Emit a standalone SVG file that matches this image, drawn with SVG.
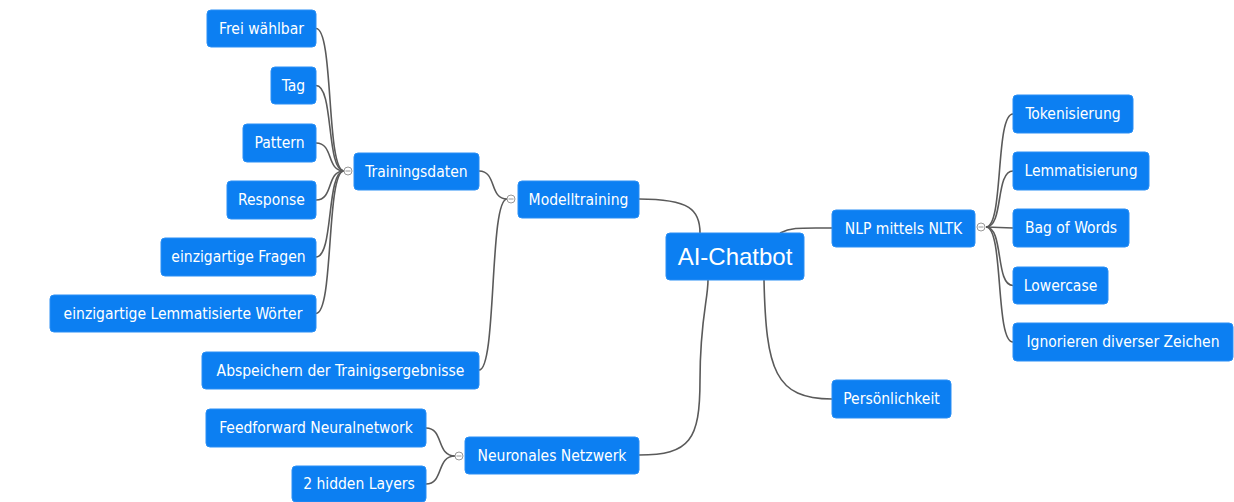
<svg xmlns="http://www.w3.org/2000/svg" width="1234" height="502" viewBox="0 0 1234 502">
<style>
.n rect{fill:#0c7ff2;stroke:#2a8ff5;stroke-width:1}
.n text{fill:#fff;font-family:"DejaVu Sans Condensed","DejaVu Sans","Liberation Sans",sans-serif;font-stretch:condensed;font-size:15.5px;text-anchor:middle;dominant-baseline:central}
.c path{fill:none;stroke:#5a5a5a;stroke-width:1.6}
.k{fill:#fff;stroke:#999;stroke-width:1}
.km{stroke:#999;stroke-width:1}
</style>
<rect width="1234" height="502" fill="#fff"/>
<g id="connectors" class="c">
<path d="M316,28.5 C334,28.5 326,171 344,171"/>
<path d="M316,85.5 C334,85.5 326,171 344,171"/>
<path d="M316,143 C334,143 326,171 344,171"/>
<path d="M316,200 C334,200 326,171 344,171"/>
<path d="M316,257 C334,257 326,171 344,171"/>
<path d="M316,313.5 C334,313.5 326,171 344,171"/>
<path d="M479,171 C497,171 489,199 507,199"/>
<path d="M479,370 C497,370 489,199 507,199"/>
<path d="M426,428 C444,428 436,456 455,456"/>
<path d="M426,484 C444,484 436,456 455,456"/>
<path d="M639,199 C690,199 700,210 700,233"/>
<path d="M639,455 C690,455 700,440 700,380 C700,320 708,300 708,280"/>
<path d="M780,233 C792,227 800,228 832,228"/>
<path d="M764,280 C766,370 775,399 832,399"/>
<path d="M986,227 C1004,227 995,114 1013,114"/>
<path d="M986,227 C1004,227 995,171 1013,171"/>
<path d="M986,227 L1013,228"/>
<path d="M986,227 C1004,227 995,285.5 1013,285.5"/>
<path d="M986,227 C1004,227 995,342 1013,342"/>
</g>
<g id="collapse">
<circle class="k" cx="348" cy="171" r="4"/><line class="km" x1="345.5" y1="171" x2="350.5" y2="171"/>
<circle class="k" cx="511" cy="199" r="4"/><line class="km" x1="508.5" y1="199" x2="513.5" y2="199"/>
<circle class="k" cx="459" cy="456" r="4"/><line class="km" x1="456.5" y1="456" x2="461.5" y2="456"/>
<circle class="k" cx="981" cy="227" r="4"/><line class="km" x1="978.5" y1="227" x2="983.5" y2="227"/>
</g>
<g id="n-frei" class="n"><rect x="207" y="10" width="109" height="37" rx="4"/><text x="261.5" y="28.5">Frei wählbar</text></g>
<g id="n-tag" class="n"><rect x="271" y="67" width="45" height="37" rx="4"/><text x="293.5" y="85.5">Tag</text></g>
<g id="n-pattern" class="n"><rect x="243" y="124" width="73" height="38" rx="4"/><text x="279.5" y="143">Pattern</text></g>
<g id="n-response" class="n"><rect x="227" y="181" width="89" height="38" rx="4"/><text x="271.5" y="200">Response</text></g>
<g id="n-fragen" class="n"><rect x="161" y="238" width="155" height="38" rx="4"/><text x="238.5" y="257">einzigartige Fragen</text></g>
<g id="n-lemw" class="n"><rect x="50" y="295" width="266" height="37" rx="4"/><text x="183" y="313.5">einzigartige Lemmatisierte Wörter</text></g>
<g id="n-trainingsdaten" class="n"><rect x="354" y="153" width="125" height="37" rx="4"/><text x="416.5" y="171.5">Trainingsdaten</text></g>
<g id="n-abspeichern" class="n"><rect x="202" y="352" width="277" height="37" rx="4"/><text x="340.5" y="370.5">Abspeichern der Trainigsergebnisse</text></g>
<g id="n-modelltraining" class="n"><rect x="518" y="181" width="121" height="37" rx="4"/><text x="578.5" y="199.5">Modelltraining</text></g>
<g id="n-feedforward" class="n"><rect x="206" y="409" width="220" height="38" rx="4"/><text x="316" y="428">Feedforward Neuralnetwork</text></g>
<g id="n-hidden" class="n"><rect x="292" y="466" width="134" height="36" rx="4"/><text x="359" y="484">2 hidden Layers</text></g>
<g id="n-neuronales" class="n"><rect x="465" y="437" width="174" height="37" rx="4"/><text x="552" y="455.5">Neuronales Netzwerk</text></g>
<g id="n-chatbot" class="n"><rect x="666" y="233" width="138" height="47" rx="4"/><text x="735" y="256.5" style="font-family:'Liberation Sans',Arial,sans-serif;font-stretch:normal;font-size:24px">AI-Chatbot</text></g>
<g id="n-nlp" class="n"><rect x="832" y="210" width="143" height="37" rx="4"/><text x="903.5" y="228.5">NLP mittels NLTK</text></g>
<g id="n-persoenlichkeit" class="n"><rect x="832" y="380" width="119" height="38" rx="4"/><text x="891.5" y="399">Persönlichkeit</text></g>
<g id="n-token" class="n"><rect x="1013" y="95" width="120" height="38" rx="4"/><text x="1073" y="114">Tokenisierung</text></g>
<g id="n-lemma" class="n"><rect x="1013" y="152" width="136" height="38" rx="4"/><text x="1081" y="171">Lemmatisierung</text></g>
<g id="n-bow" class="n"><rect x="1013" y="209" width="116" height="38" rx="4"/><text x="1071" y="228">Bag of Words</text></g>
<g id="n-lower" class="n"><rect x="1013" y="267" width="95" height="37" rx="4"/><text x="1060.5" y="285.5">Lowercase</text></g>
<g id="n-ignore" class="n"><rect x="1013" y="323" width="220" height="38" rx="4"/><text x="1123" y="342">Ignorieren diverser Zeichen</text></g>
</svg>
